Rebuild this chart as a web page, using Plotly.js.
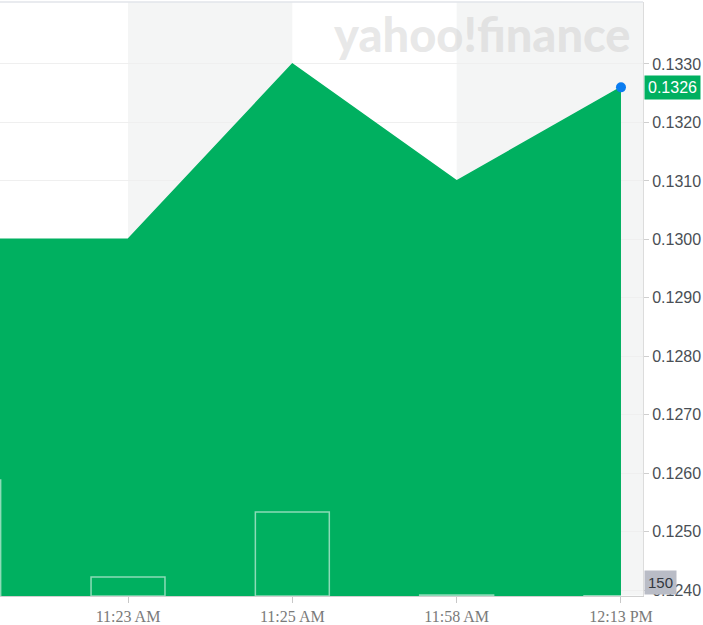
<!DOCTYPE html>
<html>
<head>
<meta charset="utf-8">
<script src="https://cdn.plot.ly/plotly-3.0.1.min.js"></script>
<style>html,body{margin:0;padding:0;background:#fff;}#chart{width:703px;height:625px;}</style>
</head>
<body>
<div id="chart"></div>
<script>
// Data
const timeIndex = [-1, 0, 1, 2, 3];
const priceValues = [0.1300, 0.1300, 0.1330, 0.1310, 0.1326];
const volumeValues = [58000, 9500, 42000, 500, 150];
const tickPositions = [0, 1, 2, 3];
const tickLabels = ['11:23 AM', '11:25 AM', '11:58 AM', '12:13 PM'];
const lastPriceLabel = '0.1326';
const lastVolumeLabel = '150';

const green = '#00b060';

const traces = [
  {
    x: timeIndex, y: priceValues, type: 'scatter', mode: 'lines',
    fill: 'tozeroy', fillcolor: green,
    line: {color: green, width: 1.5, shape: 'linear'},
    hoverinfo: 'skip', showlegend: false
  },
  {
    x: timeIndex, y: volumeValues, type: 'bar', yaxis: 'y2',
    width: 0.45,
    marker: {color: 'rgba(0,0,0,0)', line: {color: 'rgba(255,255,255,0.55)', width: 1.5}},
    hoverinfo: 'skip', showlegend: false
  },
  {
    x: [timeIndex[timeIndex.length-1]], y: [priceValues[priceValues.length-1]],
    type: 'scatter', mode: 'markers',
    marker: {color: '#0a7cf0', size: 10},
    hoverinfo: 'skip', showlegend: false, cliponaxis: false
  }
];

const layout = {
  width: 703, height: 625,
  margin: {l: 0, r: 60, t: 2, b: 29},
  paper_bgcolor: '#ffffff', plot_bgcolor: '#ffffff',
  showlegend: false,
  xaxis: {
    range: [-0.779, 3.134], tickvals: tickPositions, ticktext: tickLabels,
    showgrid: false, zeroline: false,
    showline: true, linecolor: '#d0d0d0', linewidth: 1,
    ticks: 'outside', ticklen: 6, tickcolor: '#c8c8c8',
    tickfont: {family: 'Liberation Serif, Times New Roman, serif', size: 16, color: '#7a7a7a'}
  },
  yaxis: {
    side: 'right', range: [0.12390, 0.13406],
    tickvals: [0.1240,0.1250,0.1260,0.1270,0.1280,0.1290,0.1300,0.1310,0.1320,0.1330],
    tickformat: '.4f',
    showgrid: true, gridcolor: '#efefef', zeroline: false,
    showline: true, linecolor: '#dcdcdc', linewidth: 1,
    ticks: 'outside', ticklen: 5, tickcolor: '#cfcfcf',
    tickfont: {family: 'Liberation Sans, Arial, sans-serif', size: 16, color: '#4a4f55'}
  },
  yaxis2: {
    overlaying: 'y', range: [0, 297000], visible: false, fixedrange: true
  },
  shapes: [
    {type: 'rect', xref: 'x', yref: 'paper', x0: 0, x1: 1, y0: 0, y1: 1, fillcolor: '#f4f5f5', line: {width: 0}, layer: 'below'},
    {type: 'rect', xref: 'x', yref: 'paper', x0: 2, x1: 3.134, y0: 0, y1: 1, fillcolor: '#f4f5f5', line: {width: 0}, layer: 'below'},
    {type: 'line', xref: 'paper', yref: 'paper', x0: 0, x1: 1, y0: 1, y1: 1, line: {color: '#e2e5ea', width: 1.5}}
  ],
  annotations: [
    {
      xref: 'paper', yref: 'paper', x: 0.751, y: 0.946, xanchor: 'center', yanchor: 'middle',
      text: 'yahoo!finance', showarrow: false,
      font: {family: 'Lato, Inter, sans-serif', size: 47, weight: 900, color: 'rgba(200,200,200,0.42)'}
    },
    {
      xref: 'paper', yref: 'y', x: 1, y: priceValues[priceValues.length-1], xanchor: 'left', yanchor: 'middle',
      xshift: 1, text: lastPriceLabel, showarrow: false,
      bgcolor: green, borderpad: 3,
      font: {family: 'Liberation Sans, Arial, sans-serif', size: 16, color: '#ffffff'}
    },
    {
      xref: 'paper', yref: 'paper', x: 1, y: 0.023, xanchor: 'left', yanchor: 'middle',
      xshift: 1, text: lastVolumeLabel, showarrow: false,
      bgcolor: '#b9bcc6', borderpad: 3,
      font: {family: 'Liberation Sans, Arial, sans-serif', size: 15, color: '#333840'}
    }
  ]
};

Plotly.newPlot('chart', traces, layout, {displayModeBar: false, staticPlot: true});
</script>
</body>
</html>
